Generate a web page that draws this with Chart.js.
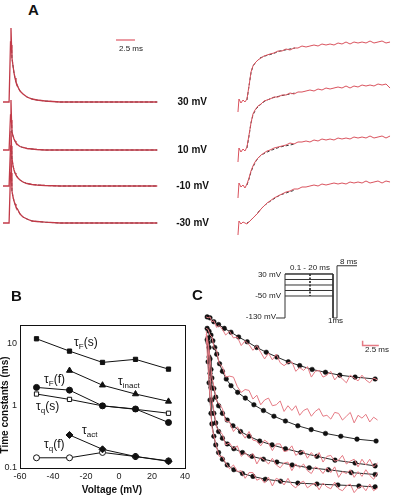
<!DOCTYPE html>
<html>
<head>
<meta charset="utf-8">
<script src="https://cdn.jsdelivr.net/npm/chart.js@4.4.0/dist/chart.umd.min.js"></script>
<style>
  html, body { margin: 0; padding: 0; background: #fff; }
  #fig { position: relative; width: 393px; height: 500px; overflow: hidden; font-family: Arial, "Liberation Sans", sans-serif; color: #111; }
  canvas { position: absolute; }
  .t { position: absolute; white-space: nowrap; transform: translateY(-50%); line-height: 1; }
  .r { transform: translate(-100%, -50%); }
  .panel { font-weight: bold; font-size: 15px; }
  .mv { font-weight: bold; font-size: 10px; }
  .small { font-size: 8px; color: #222; }
  .tau { font-size: 12px; }
  .tau sub { font-size: 8px; vertical-align: -3px; }
</style>
</head>
<body>
<div id="fig">
  <canvas id="aLeft" width="165" height="230" style="left:0;top:20px"></canvas>
  <canvas id="aRight" width="163" height="230" style="left:230px;top:20px"></canvas>
  <canvas id="bChart" width="200" height="220" style="left:0;top:280px"></canvas>
  <canvas id="proto" width="100" height="70" style="left:270px;top:255px"></canvas>
  <canvas id="cChart" width="198" height="200" style="left:195px;top:300px"></canvas>

  <div class="t panel" style="left:28px;top:9px">A</div>
  <div class="t small" style="left:119px;top:49px">2.5 ms</div>
  <div class="t mv r" style="left:207px;top:102px">30 mV</div>
  <div class="t mv r" style="left:207px;top:150px">10 mV</div>
  <div class="t mv r" style="left:209px;top:186px">-10 mV</div>
  <div class="t mv r" style="left:209px;top:223px">-30 mV</div>

  <div class="t panel" style="left:11px;top:295px">B</div>
  <div class="t tau" style="left:74px;top:343px">&tau;<sub>F</sub>(s)</div>
  <div class="t tau" style="left:44px;top:380px">&tau;<sub>F</sub>(f)</div>
  <div class="t tau" style="left:118px;top:382px">&tau;<sub>inact</sub></div>
  <div class="t tau" style="left:36px;top:407px">&tau;<sub>q</sub>(s)</div>
  <div class="t tau" style="left:82px;top:431px">&tau;<sub>act</sub></div>
  <div class="t tau" style="left:44px;top:445px">&tau;<sub>q</sub>(f)</div>
  <div class="t mv" style="left:112px;top:490px;transform:translate(-50%,-50%)">Voltage (mV)</div>
  <div class="t mv" style="left:5px;top:405px;transform:translate(-50%,-50%) rotate(-90deg)">Time constants (ms)</div>

  <div class="t panel" style="left:192px;top:294px">C</div>
  <div class="t small" style="left:290px;top:268px">0.1 - 20 ms</div>
  <div class="t small" style="left:340px;top:262px">8 ms</div>
  <div class="t small r" style="left:281px;top:275px">30 mV</div>
  <div class="t small r" style="left:281px;top:296px">-50 mV</div>
  <div class="t small r" style="left:276px;top:317px">-130 mV</div>
  <div class="t small" style="left:328px;top:321px">1ms</div>
  <div class="t small" style="left:365px;top:350px">2.5 ms</div>
</div>

<script>
Chart.defaults.font.family = 'Arial, "Liberation Sans", sans-serif';

// ---- Panel A, left: fast transients (time in ms, current in a.u.)
const tA = [0, 0.8, 0.92, 0.99, 1.05, 1.12, 1.18, 1.32, 1.45, 1.58, 1.71, 1.97, 2.24, 2.63, 3.16, 3.82, 4.47, 5.53, 7.5, 10, 15, 20.3];
const a30 = [0, 0, 0, 60, 74, 57, 44, 36, 29, 24, 20, 15, 11, 8, 5, 3, 2, 1, 0, 0, 0, 0];
const a10 = [0, 0, 0, 35, 50, 30, 18, 14, 11, 9, 7, 5, 3.5, 2.5, 1.5, 1, 0.5, 0, 0, 0, 0, 0];
const aM10 = [0, 0, 0, 40, 55, 40, 28, 20, 16, 13, 11, 8, 6, 4, 2.5, 1.5, 1, 0.5, 0, 0, 0, 0];
const aM30 = [0, 0, 0, 50, 70, 50, 32, 26, 22, 19, 16, 13, 9, 6, 4, 2, 1.5, 0.8, 0, 0, 0, 0];
const holdA = [-82, -130, -166, -203];   // stacking offset of each trace

// ---- Panel A, right: slow relaxations
const tR = [0, 0.13, 0.39, 0.66, 0.92, 1.18, 1.45, 1.71, 1.97, 2.24, 2.63, 3.03, 3.42, 3.82, 4.21, 4.74, 5.26, 5.79, 6.32, 6.84, 7.37, 7.89, 8.42, 8.95, 9.47, 10.0, 10.53, 11.05, 11.58, 12.11, 12.63, 13.16, 13.68, 14.21, 14.74, 15.26, 15.79, 16.32, 16.84, 17.37, 17.89, 18.42, 18.95, 19.47, 20.0];
const r30 = [-10, 3, -1, 2, 0, 3, 16, 30, 36, 39, 42, 44, 46, 47, 48, 49, 51, 51, 53, 52, 54, 54, 56, 55, 56, 57, 56, 58, 57, 58, 57, 59, 58, 60, 58, 60, 59, 60, 59, 61, 59, 60, 61, 59, 60];
const r10 = [-12, 2, -2, 1, -1, 3, 15, 27, 36, 40, 44, 46, 49, 50, 51, 53, 53, 55, 55, 57, 56, 58, 58, 59, 60, 59, 61, 60, 62, 61, 62, 63, 62, 64, 62, 64, 63, 65, 64, 65, 64, 66, 65, 66, 62];
const rM10 = [-12, 3, -1, 1, -2, 2, 8, 15, 20, 24, 28, 31, 33, 35, 36, 38, 39, 40, 41, 43, 42, 44, 44, 45, 44, 46, 45, 47, 46, 47, 46, 48, 47, 48, 47, 49, 48, 49, 48, 50, 48, 49, 50, 48, 50];
const rM30 = [-12, 2, -1, 1, 0, -1, 1, 3, 5, 7, 10, 14, 17, 20, 22, 25, 27, 29, 31, 32, 34, 34, 36, 36, 37, 38, 37, 39, 38, 39, 40, 39, 40, 39, 41, 40, 41, 40, 42, 40, 41, 42, 40, 42, 41];
const tRfit = [1.18, 1.45, 1.71, 1.97, 2.37, 2.89, 3.55, 4.47, 5.53, 7.5];
const f30 = [2, 16, 29, 36, 40, 44, 46, 48, 51, 54];
const f10 = [2, 14, 27, 35, 41, 45, 49, 52, 54, 57];
const fM10 = [1, 7, 14, 19, 25, 30, 33, 36, 39, 42];
const fM30 = [0, 1, 3, 5, 8, 13, 18, 23, 28, 33];

// ---- Panel B: time constants vs voltage
const voltages = [-50, -30, -10, 10, 30];
const tauFs = [12.0, 7.6, 5.0, 5.6, 3.9];
const tauInact = [null, 3.7, 2.15, 1.55, 1.18];
const tauFf = [1.98, 1.79, 1.0, 0.89, 0.54];
const tauQs = [1.55, 1.27, 1.0, 0.88, 0.76];
const tauAct = [null, 0.34, 0.20, 0.153, 0.128];
const tauQf = [0.146, 0.146, 0.178, 0.153, 0.13];
const yTicksB = [0.1, 1, 10];

// ---- Panel C: protocol (schematic time units, mV)
const protoT = [0, 2.25, 2.25, 14.25, 14.25, 15.25, 15.25, 20.25];
const protoV = [-130, -130, 30, 30, -130, -130, 60, 60];
const testLevels = [30, 10, -10, -30, -50];
const markT = 8.5;

// ---- Panel C: traces (time in ms, current in a.u.)
const tC = [0, 0.3, 0.6, 0.9, 1.2, 1.6, 2.0, 2.5, 3.0, 3.6, 4.2, 4.8, 5.4, 6.0, 6.6, 7.2, 7.8, 8.4, 9.0, 9.6, 10.2, 10.8, 11.4, 12.0, 12.6, 13.2, 13.8, 14.4, 15.0, 15.6, 16.2, 16.8, 17.4, 18.0, 18.6, 19.2, 19.8, 20.4, 21.0, 21.6, 22.2, 22.8, 23.4, 24.0, 24.6, 25.2, 25.8, 26.4];
const c1 = [0, -1, 0, -5, -4, -11, -9, -13, -19, -15, -22, -21, -30, -25, -29, -35, -30, -37, -44, -38, -45, -39, -48, -51, -48, -47, -57, -53, -56, -52, -63, -57, -56, -63, -61, -57, -66, -61, -65, -69, -61, -64, -67, -61, -66, -69, -64, -66];
const c2 = [-12, -13, -19, -21, -32, -35, -49, -52, -63, -62, -63, -73, -79, -76, -77, -86, -82, -92, -87, -85, -93, -92, -88, -99, -93, -98, -93, -103, -98, -96, -104, -99, -96, -104, -103, -107, -100, -101, -108, -104, -100, -111, -103, -106, -102, -110, -105, -108];
const c3 = [-15, -27, -44, -64, -73, -88, -91, -96, -109, -110, -120, -115, -121, -127, -120, -129, -130, -135, -129, -132, -140, -133, -133, -141, -140, -135, -145, -142, -140, -148, -142, -147, -142, -152, -146, -145, -151, -150, -145, -154, -151, -149, -157, -149, -155, -149, -157, -153];
const c4 = [-18, -31, -61, -88, -99, -116, -119, -123, -134, -132, -138, -135, -146, -142, -147, -143, -154, -147, -150, -154, -148, -155, -158, -153, -152, -161, -154, -158, -154, -161, -164, -157, -159, -164, -158, -163, -157, -168, -162, -164, -160, -168, -162, -167, -160, -166, -170, -163];
const c5 = [-20, -53, -87, -116, -125, -136, -146, -146, -153, -159, -155, -162, -161, -169, -163, -163, -171, -169, -174, -168, -177, -169, -171, -176, -169, -176, -179, -174, -172, -179, -176, -174, -181, -174, -178, -180, -173, -180, -182, -177, -175, -184, -179, -177, -182, -175, -182, -179];
const tFit1 = [0.15, 0.59, 1.18, 1.91, 2.79, 3.82, 5.0, 6.32, 7.79, 9.26, 10.88, 12.65, 14.41, 16.32, 18.38, 20.59, 22.94, 26.03];
const fit1 = [0, -1, -5, -8, -12, -16, -21, -26, -32, -37, -42, -47, -51, -55, -58, -61, -63, -65];
const tFit2 = [0.15, 0.44, 0.74, 1.03, 1.32, 1.62, 2.06, 2.5, 3.09, 3.82, 4.85, 6.03, 7.35, 8.82, 10.44, 12.21, 14.12, 16.18, 18.38, 20.74, 23.24, 26.18];
const fit2 = [-12, -15, -19, -25, -32, -39, -49, -57, -65, -72, -79, -85, -92, -98, -104, -109, -114, -118, -122, -125, -128, -130];
const tFit3 = [0.29, 0.44, 0.59, 0.74, 0.88, 1.18, 1.47, 1.91, 2.5, 3.24, 4.12, 5.29, 6.62, 8.24, 10.15, 12.21, 14.56, 17.06, 19.85, 22.94, 26.03];
const fit3 = [-22, -32, -44, -55, -64, -75, -84, -93, -101, -108, -114, -120, -125, -130, -134, -138, -142, -146, -150, -153, -156];
const tFit4 = [0.29, 0.44, 0.59, 0.74, 0.88, 1.18, 1.47, 1.91, 2.5, 3.24, 4.26, 5.59, 7.06, 8.82, 10.88, 13.24, 15.88, 18.82, 22.35, 26.03];
const fit4 = [-27, -42, -59, -74, -87, -101, -111, -120, -127, -133, -138, -142, -146, -149, -152, -155, -158, -160, -163, -165];
const tFit5 = [0.15, 0.29, 0.44, 0.59, 0.74, 0.88, 1.18, 1.47, 1.91, 2.5, 3.24, 4.26, 5.59, 7.21, 9.12, 11.47, 14.12, 17.06, 20.29, 23.53, 26.03];
const fit5 = [-24, -47, -69, -87, -101, -112, -125, -134, -142, -149, -155, -160, -164, -167, -170, -172, -174, -175, -176, -177, -178];

const RED = '#d9525d';
const PINK = '#e57a84';

function pts(ts, vs, off) {
    return ts.map((t, i) => ({ x: t, y: vs[i] + (off || 0) }));
}
function line(data, color, width, extra) {
    return Object.assign({ data, borderColor: color, backgroundColor: color, borderWidth: width, pointRadius: 0, showLine: true, tension: 0 }, extra || {});
}
function traceChart(id, xr, yr, datasets) {
    return new Chart(document.getElementById(id), {
        type: 'scatter',
        data: { datasets },
        options: {
            responsive: false,
            animation: false,
            events: [],
            layout: { padding: 0 },
            plugins: { legend: { display: false }, tooltip: { enabled: false } },
            scales: {
                x: { type: 'linear', display: false, min: xr[0], max: xr[1] },
                y: { type: 'linear', display: false, min: yr[0], max: yr[1] }
            }
        }
    });
}

// Panel A left
const leftTraces = [a30, a10, aM10, aM30];
const aLeftSets = [];
leftTraces.forEach((amp, i) => {
    aLeftSets.push(line(pts(tA, amp, holdA[i]), '#c23a48', 1.3));
    aLeftSets.push(line(pts(tA.slice(5), amp.slice(5), holdA[i]), '#111', 0.8, { borderDash: [3, 2] }));
});
// 2.5 ms scale bar
aLeftSets.push(line([{ x: 14.87, y: -20 }, { x: 17.37, y: -20 }], PINK, 1.5));
traceChart('aLeft', [-0.395, 21.32], [-230, 0], aLeftSets);

// Panel A right
const rightTraces = [r30, r10, rM10, rM30];
const rightFits = [f30, f10, fM10, fM30];
const aRightSets = [];
rightTraces.forEach((amp, i) => {
    aRightSets.push(line(pts(tR, amp, holdA[i]), RED, 1));
    aRightSets.push(line(pts(tRfit, rightFits[i], holdA[i]), '#222', 0.9, { borderDash: [3, 2] }));
});
traceChart('aRight', [-1.05, 20.39], [-230, 0], aRightSets);

// Panel B
const frame = {
    id: 'frame',
    afterDraw(chart) {
        const a = chart.chartArea, c = chart.ctx;
        c.save();
        c.strokeStyle = '#111';
        c.lineWidth = 1;
        c.strokeRect(Math.round(a.left) + 0.5, Math.round(a.top) + 0.5, Math.round(a.right - a.left), Math.round(a.bottom - a.top));
        c.restore();
    }
};
function series(vals, style, radius, fill) {
    const data = [];
    vals.forEach((v, i) => { if (v !== null) data.push({ x: voltages[i], y: v }); });
    return {
        data, borderColor: '#111', borderWidth: 1, showLine: true,
        pointStyle: style, pointRadius: radius, pointBorderColor: '#111', pointBorderWidth: 1,
        pointBackgroundColor: fill
    };
}
new Chart(document.getElementById('bChart'), {
    type: 'scatter',
    data: {
        datasets: [
            series(tauFs, 'rect', 3, '#111'),
            series(tauInact, 'triangle', 3.5, '#111'),
            series(tauFf, 'circle', 3, '#111'),
            series(tauQs, 'rect', 3, '#fff'),
            series(tauAct, 'rectRot', 3.5, '#111'),
            series(tauQf, 'circle', 3, '#fff')
        ]
    },
    options: {
        responsive: false,
        animation: false,
        events: [],
        layout: { padding: { top: 45, right: 15, bottom: 12, left: 0 } },
        plugins: { legend: { display: false }, tooltip: { enabled: false } },
        scales: {
            x: {
                type: 'linear', min: -60, max: 40,
                grid: { display: false, drawTicks: false },
                border: { display: false },
                ticks: { stepSize: 20, font: { size: 9 }, color: '#222', padding: 3, maxRotation: 0 },
                afterFit: s => { s.height = 20; }
            },
            y: {
                type: 'logarithmic', min: 0.1, max: 20,
                grid: { display: false, drawTicks: false },
                border: { display: false },
                ticks: { font: { size: 9 }, color: '#222', padding: 3, callback: v => String(v) },
                afterBuildTicks: s => { s.ticks = yTicksB.map(v => ({ value: v })); },
                afterFit: s => { s.width = 20; }
            }
        }
    },
    plugins: [frame]
});

// Panel C protocol
const protoSets = [line(pts(protoT, protoV), '#333', 1)];
testLevels.forEach(v => {
    protoSets.push(line([{ x: 2.25, y: v }, { x: 14.25, y: v }], '#333', 1));
});
protoSets.push(line([{ x: markT, y: 30 }, { x: markT, y: -50 }], '#111', 1.5, { borderDash: [2, 1.5] }));
traceChart('proto', [-1.5, 23.5], [-155.5, 99.1], protoSets);

// Panel C traces
const cSets = [];
[c1, c2, c3, c4, c5].forEach(v => cSets.push(line(pts(tC, v), PINK, 1)));
[[tFit1, fit1], [tFit2, fit2], [tFit3, fit3], [tFit4, fit4], [tFit5, fit5]].forEach(([t, v]) => {
    cSets.push(line(pts(t, v), '#111', 0.9, { pointRadius: 2.3, pointBackgroundColor: '#111', pointBorderColor: '#111', pointBorderWidth: 0.5 }));
});
cSets.push(line([{ x: 24.1, y: -25 }, { x: 24.1, y: -30 }, { x: 26.6, y: -30 }], PINK, 1.5));
traceChart('cChart', [-1.03, 28.09], [-187, 13], cSets);
</script>
</body>
</html>
